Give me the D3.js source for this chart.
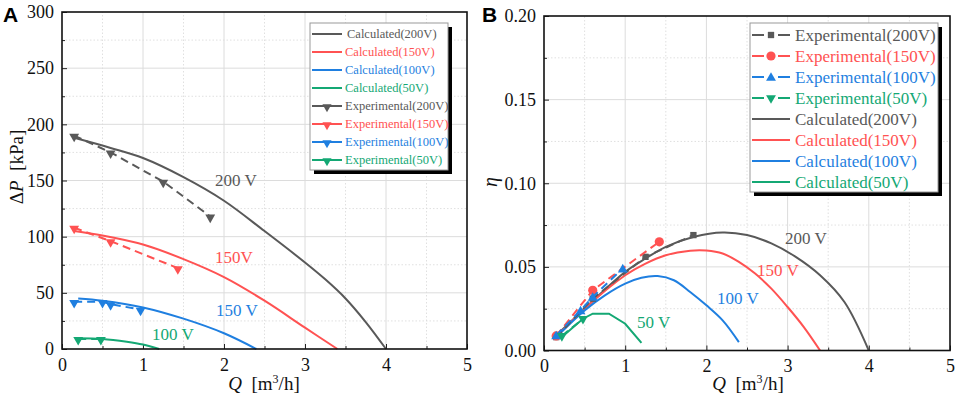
<!DOCTYPE html>
<html><head><meta charset="utf-8">
<script src="https://cdn.jsdelivr.net/npm/d3@7"></script>
<style>body{margin:0;background:#fff}svg{display:block}</style>
</head><body><svg id="c" width="955" height="399" font-family='"Liberation Serif","Times New Roman",serif'></svg>
<script>
// ---------- DATA: Panel A (pressure rise) ----------
const qTicks = [0,1,2,3,4,5];
const dpTicks = [0,50,100,150,200,250,300];
const etaTicks = [0,0.05,0.10,0.15,0.20];
const seriesNames = ["200V","150V","100V","50V"];
const seriesColors = ["#595959","#ff5252","#1f7fe0","#14a874"];

const qCalcA200 = [0.15,0.6,1.0,1.5,2.0,2.5,3.0,3.25,3.5,3.75,4.0];
const dpCalc200 = [188,179,170,153,132,105,77,62,45,24,0];
const qCalcA150 = [0.15,0.5,1.0,1.5,2.0,2.5,3.0,3.4];
const dpCalc150 = [105,101,93,80,64,43,19,0];
const qCalcA100 = [0.2,0.5,1.0,1.5,2.0,2.4];
const dpCalc100 = [45,43,37,27,14,0];
const qCalcA50 = [0.18,0.5,0.8,1.0,1.2];
const dpCalc50 = [9.5,9,6.5,4,0];

const qExpA200 = [0.15,0.6,1.25,1.83];
const dpExp200 = [190,175,149,118];
const qExpA150 = [0.15,0.6,1.43];
const dpExp150 = [108,96,72];
const qExpA100 = [0.15,0.5,0.6,0.97];
const dpExp100 = [42,42,40,35];
const qExpA50 = [0.2,0.48];
const dpExp50 = [9,9];

// ---------- DATA: Panel B (efficiency) ----------
const qCalcB200 = [0.15,0.5,1.0,1.25,1.5,1.85,2.2,2.5,2.8,3.1,3.4,3.7,4.0];
const etaCalc200 = [0.009,0.025,0.047,0.055,0.062,0.068,0.0705,0.069,0.064,0.056,0.045,0.029,0];
const qCalcB150 = [0.15,0.5,1.0,1.25,1.5,1.8,2.0,2.2,2.4,2.6,2.8,3.0,3.2,3.4];
const etaCalc150 = [0.008,0.025,0.045,0.052,0.057,0.0597,0.0598,0.058,0.053,0.046,0.037,0.026,0.014,0];
const qCalcB100 = [0.15,0.5,0.75,1.0,1.2,1.4,1.6,1.8,2.0,2.2,2.4];
const etaCalc100 = [0.008,0.024,0.033,0.040,0.0435,0.0445,0.042,0.035,0.027,0.018,0.005];
const qCalcB50 = [0.22,0.48,0.6,0.8,1.0,1.2];
const etaCalc50 = [0.008,0.019,0.022,0.022,0.016,0.0045];

const qExpB200 = [0.15,0.6,1.25,1.84];
const etaExp200 = [0.008,0.031,0.056,0.069];
const qExpB150 = [0.15,0.6,1.42];
const etaExp150 = [0.0087,0.036,0.065];
const qExpB100 = [0.15,0.45,0.6,0.97];
const etaExp100 = [0.009,0.024,0.032,0.049];
const qExpB50 = [0.22,0.48];
const etaExp50 = [0.0087,0.019];

const zip = (xs, ys) => xs.map((x,i)=>[x,ys[i]]);
const svg = d3.select("#c");
const FONT = '"Liberation Serif","Times New Roman",serif';

function panel(opt){
  const x = d3.scaleLinear().domain([0,5]).range([opt.x0,opt.x1]);
  const y = d3.scaleLinear().domain(opt.yDom).range([opt.y0,opt.y1]);
  const g = svg.append("g");
  const xMinor = d3.range(0.5,5,1);
  const yMinor = opt.yMinor;
  g.selectAll(".gxm").data(xMinor).join("line")
    .attr("x1",d=>x(d)).attr("x2",d=>x(d)).attr("y1",opt.y0).attr("y2",opt.y1)
    .attr("stroke","#d8d8d8").attr("stroke-width",0.8).attr("stroke-dasharray","1.5,2");
  g.selectAll(".gym").data(yMinor).join("line")
    .attr("y1",d=>y(d)).attr("y2",d=>y(d)).attr("x1",opt.x0).attr("x2",opt.x1)
    .attr("stroke","#d8d8d8").attr("stroke-width",0.8).attr("stroke-dasharray","1.5,2");
  g.selectAll(".gx").data(qTicks.slice(1,-1)).join("line")
    .attr("x1",d=>x(d)).attr("x2",d=>x(d)).attr("y1",opt.y0).attr("y2",opt.y1)
    .attr("stroke","#dcdcdc").attr("stroke-width",1);
  g.selectAll(".gy").data(opt.yTicks.slice(1,-1)).join("line")
    .attr("y1",d=>y(d)).attr("y2",d=>y(d)).attr("x1",opt.x0).attr("x2",opt.x1)
    .attr("stroke","#dcdcdc").attr("stroke-width",1);
  const ax = g.append("g").attr("transform",`translate(0,${opt.y0})`)
    .call(d3.axisBottom(x).tickValues(qTicks).tickFormat(d3.format("d")).tickSize(-5).tickPadding(9));
  const axm = g.append("g").attr("transform",`translate(0,${opt.y0})`)
    .call(d3.axisBottom(x).tickValues(xMinor).tickFormat("").tickSize(-3));
  const ay = g.append("g").attr("transform",`translate(${opt.x0},0)`)
    .call(d3.axisLeft(y).tickValues(opt.yTicks).tickFormat(opt.yFmt).tickSize(-5).tickPadding(8));
  const aym = g.append("g").attr("transform",`translate(${opt.x0},0)`)
    .call(d3.axisLeft(y).tickValues(yMinor).tickFormat("").tickSize(-3));
  [ax,axm,ay,aym].forEach(a=>{
    a.attr("font-family",FONT).attr("font-size",18);
    a.select(".domain").remove();
    a.selectAll("text").attr("fill","#111");
    a.selectAll("line").attr("stroke","#222");
  });
  return {x,y,g};
}

function frame(o){
  svg.append("rect").attr("x",o.x0).attr("y",o.y1).attr("width",o.x1-o.x0).attr("height",o.y0-o.y1)
    .attr("fill","none").attr("stroke","#111").attr("stroke-width",1.6);
}

function triDown(g, px, py, color, s){
  g.append("path").attr("d",d3.symbol(d3.symbolTriangle, s||42)())
    .attr("transform",`translate(${px},${py}) rotate(180)`).attr("fill",color);
}
function marker(g, type, px, py, color){
  if(type==="square") g.append("path").attr("d",d3.symbol(d3.symbolSquare,40)()).attr("transform",`translate(${px},${py})`).attr("fill",color);
  else if(type==="circle") g.append("circle").attr("cx",px).attr("cy",py).attr("r",4.6).attr("fill",color);
  else if(type==="up") g.append("path").attr("d",d3.symbol(d3.symbolTriangle,42)()).attr("transform",`translate(${px},${py+1})`).attr("fill",color);
  else triDown(g,px,py,color);
}

// ---------- Panel A ----------
const oA = {x0:62,x1:467,y0:349,y1:12,yDom:[0,300],yTicks:dpTicks,yMinor:d3.range(25,300,50),yFmt:d3.format("d")};
const A = panel(oA);
const lineA = d3.line().x(d=>A.x(d[0])).y(d=>A.y(d[1])).curve(d3.curveCatmullRom.alpha(0.5));
const lineAlin = d3.line().x(d=>A.x(d[0])).y(d=>A.y(d[1]));
const calcA = [zip(qCalcA200,dpCalc200),zip(qCalcA150,dpCalc150),zip(qCalcA100,dpCalc100),zip(qCalcA50,dpCalc50)];
const expA = [zip(qExpA200,dpExp200),zip(qExpA150,dpExp150),zip(qExpA100,dpExp100),zip(qExpA50,dpExp50)];
calcA.forEach((d,i)=>A.g.append("path").attr("d",lineA(d)).attr("fill","none").attr("stroke",seriesColors[i]).attr("stroke-width",2));
expA.forEach((d,i)=>{
  A.g.append("path").attr("d",lineAlin(d)).attr("fill","none").attr("stroke",seriesColors[i]).attr("stroke-width",2).attr("stroke-dasharray","8,5");
  d.forEach(p=>triDown(A.g,A.x(p[0]),A.y(p[1])+1,seriesColors[i]));
});
frame(oA);
const labA = [["200 V",215,186],["150V",215,263],["150 V",216,316],["100 V",152,340]];
labA.forEach((l,i)=>svg.append("text").attr("x",l[1]).attr("y",l[2]).attr("font-size",17).attr("fill",seriesColors[i]).text(l[0]));

// Legend A
svg.append("rect").attr("x",314).attr("y",27).attr("width",138).attr("height",147).attr("fill","#000");
svg.append("rect").attr("x",310).attr("y",23).attr("width",138).attr("height",147).attr("fill","#fff").attr("stroke","#999").attr("stroke-width",1);
const legA = seriesNames.map((n,i)=>({t:"Calculated("+n+")",c:seriesColors[i],m:null}))
  .concat(seriesNames.map((n,i)=>({t:"Experimental("+n+")",c:seriesColors[i],m:"down"})));
legA.forEach((e,i)=>{
  const yy = 34 + i*18;
  svg.append("line").attr("x1",312).attr("x2",342).attr("y1",yy).attr("y2",yy).attr("stroke",e.c).attr("stroke-width",2);
  if(e.m) triDown(svg,327,yy+1,e.c,36);
  svg.append("text").attr("x",i===0?347:345).attr("y",yy).attr("dy","0.35em").attr("font-size",12.5).attr("fill",e.c).text(e.t);
});

// ---------- Panel B ----------
const oB = {x0:544,x1:950,y0:350.5,y1:16,yDom:[0,0.2],yTicks:etaTicks,yMinor:d3.range(0.025,0.2,0.05),yFmt:d3.format(".2f")};
const B = panel(oB);
const lineB = d3.line().x(d=>B.x(d[0])).y(d=>B.y(d[1])).curve(d3.curveCatmullRom.alpha(0.5));
const lineBlin = d3.line().x(d=>B.x(d[0])).y(d=>B.y(d[1]));
const calcB = [zip(qCalcB200,etaCalc200),zip(qCalcB150,etaCalc150),zip(qCalcB100,etaCalc100),zip(qCalcB50,etaCalc50)];
const expB = [zip(qExpB200,etaExp200),zip(qExpB150,etaExp150),zip(qExpB100,etaExp100),zip(qExpB50,etaExp50)];
const mk = ["square","circle","up","down"];
calcB.forEach((d,i)=>B.g.append("path").attr("d",(i===3?lineBlin:lineB)(d)).attr("fill","none").attr("stroke",seriesColors[i]).attr("stroke-width",2));
expB.forEach((d,i)=>{
  B.g.append("path").attr("d",lineBlin(d)).attr("fill","none").attr("stroke",seriesColors[i]).attr("stroke-width",2).attr("stroke-dasharray","8,5");
  d.forEach(p=>marker(B.g,mk[i],B.x(p[0]),B.y(p[1]),seriesColors[i]));
});
frame(oB);
const labB = [["200 V",785,244],["150 V",757,276],["100 V",717,304],["50 V",637,328]];
labB.forEach((l,i)=>svg.append("text").attr("x",l[1]).attr("y",l[2]).attr("font-size",17).attr("fill",seriesColors[i]).text(l[0]));

// Legend B
svg.append("rect").attr("x",754).attr("y",27).attr("width",188).attr("height",169).attr("fill","#000");
svg.append("rect").attr("x",750).attr("y",23).attr("width",188).attr("height",169).attr("fill","#fff").attr("stroke","#999").attr("stroke-width",1);
const legB = seriesNames.map((n,i)=>({t:"Experimental("+n+")",c:seriesColors[i],m:mk[i]}))
  .concat(seriesNames.map((n,i)=>({t:"Calculated("+n+")",c:seriesColors[i],m:null})));
legB.forEach((e,i)=>{
  const yy = 35 + i*21;
  if(e.m){
    svg.append("line").attr("x1",752).attr("x2",764).attr("y1",yy).attr("y2",yy).attr("stroke",e.c).attr("stroke-width",2);
    svg.append("line").attr("x1",778).attr("x2",790).attr("y1",yy).attr("y2",yy).attr("stroke",e.c).attr("stroke-width",2);
    marker(svg,e.m,771,yy,e.c);
  } else {
    svg.append("line").attr("x1",752).attr("x2",790).attr("y1",yy).attr("y2",yy).attr("stroke",e.c).attr("stroke-width",2);
  }
  svg.append("text").attr("x",795).attr("y",yy).attr("dy","0.35em").attr("font-size",17).attr("fill",e.c).text(e.t);
});

// ---------- Axis titles & panel letters ----------
function qTitle(cx){
  const t = svg.append("text").attr("x",cx).attr("y",390).attr("text-anchor","middle").attr("font-size",19).attr("fill","#111");
  t.append("tspan").attr("font-style","italic").text("Q");
  t.append("tspan").text("\u00a0 [m");
  t.append("tspan").attr("font-size",12).attr("dy",-7).text("3");
  t.append("tspan").attr("dy",7).text("/h]");
}
qTitle(264); qTitle(748);
const yt = svg.append("text").attr("transform","translate(23,167) rotate(-90)").attr("text-anchor","middle").attr("font-size",19).attr("fill","#111");
yt.append("tspan").text("Δ");
yt.append("tspan").attr("font-style","italic").text("P");
yt.append("tspan").text("\u00a0 [kPa]");
svg.append("text").attr("transform","translate(497,182) rotate(-90)").attr("text-anchor","middle").attr("font-size",20).attr("font-style","italic").attr("fill","#111").text("η");
svg.append("text").attr("x",3).attr("y",22).style("font-family","'Liberation Sans', Arial, sans-serif").attr("font-weight","bold").attr("font-size",21).attr("fill","#000").text("A");
svg.append("text").attr("x",482).attr("y",22).style("font-family","'Liberation Sans', Arial, sans-serif").attr("font-weight","bold").attr("font-size",21).attr("fill","#000").text("B");
</script></body></html>
